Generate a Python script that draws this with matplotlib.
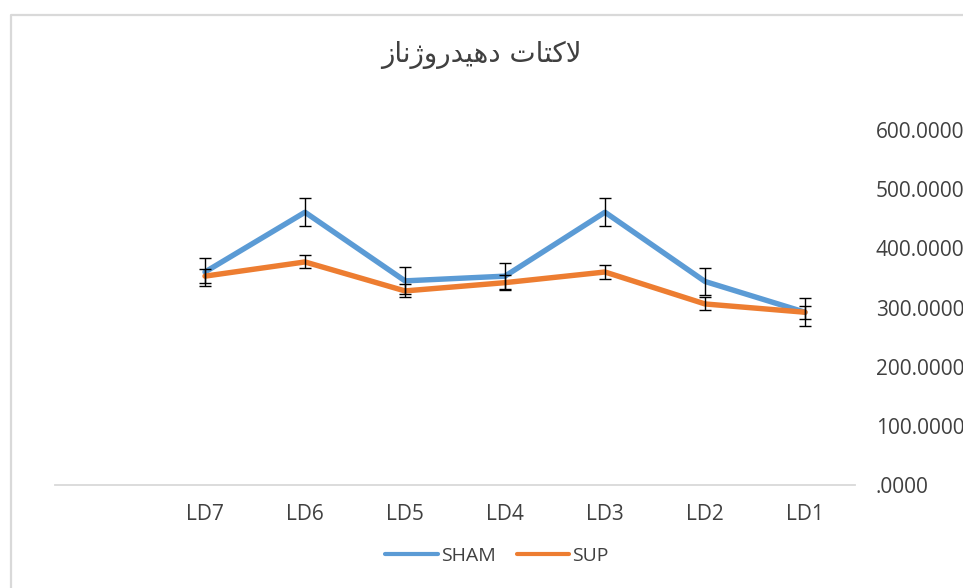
import matplotlib
matplotlib.use('Agg')
from matplotlib import pyplot as plt
from matplotlib.lines import Line2D
import numpy as np

# category order as in the sheet (the axis is drawn reversed), last row is empty
categories = ['LD1', 'LD2', 'LD3', 'LD4', 'LD5', 'LD6', 'LD7', '']
sham = [292, 344, 461, 353, 345, 461, 360, np.nan]
sham_err = [24, 23, 24, 22, 23, 24, 24, np.nan]
sup = [292, 306, 360, 342, 328, 377, 353, np.nan]
sup_err = [11, 11, 11, 13, 11, 11, 12, np.nan]
y_ticks = [0, 100, 200, 300, 400, 500, 600]
y_tick_labels = ['.0000', '100.0000', '200.0000', '300.0000', '400.0000', '500.0000', '600.0000']

# title "لاکتات دهیدروژناز" in shaped presentation forms, visual (left-to-right) order
title = 'ﺯﺎﻧﮊﻭﺭﺪﯿﻫﺩ ﺕﺎﺘﮐﻻ'

blue = '#5B9BD5'
orange = '#ED7D31'
text_color = '#404040'
grid_color = '#D9D9D9'

plt.rcParams['font.family'] = ['Open Sans', 'DejaVu Sans']

W, H = 963, 588
fig = plt.figure(figsize=(W / 100, H / 100), dpi=100)
ax = fig.add_axes([55 / W, 1 - 485 / H, 800 / W, 355 / H])

x = np.arange(len(categories))
ax.plot(x, sham, color=blue, lw=3.9, solid_capstyle='round', solid_joinstyle='round', zorder=3, label='SHAM')
ax.plot(x, sup, color=orange, lw=3.9, solid_capstyle='round', solid_joinstyle='round', zorder=3, label='SUP')
ax.errorbar(x, sham, yerr=sham_err, fmt='none', ecolor='black', elinewidth=1, capsize=4.5, capthick=1, zorder=4)
ax.errorbar(x, sup, yerr=sup_err, fmt='none', ecolor='black', elinewidth=1, capsize=4.5, capthick=1, zorder=4)

ax.set_xlim(len(categories) - 0.5, -0.5)
ax.set_ylim(0, 600)
ax.set_xticks(x)
ax.set_xticklabels(categories, fontsize=15, color=text_color)
ax.set_yticks(y_ticks)
ax.set_yticklabels(y_tick_labels, fontsize=15, color=text_color, ha='left')
ax.yaxis.tick_right()
ax.tick_params(axis='x', length=0, pad=14)
ax.tick_params(axis='y', length=0, pad=15)

for side in ['top', 'left', 'right']:
    ax.spines[side].set_visible(False)
ax.spines['bottom'].set_color(grid_color)
ax.spines['bottom'].set_linewidth(1.3)

fig.text(481 / W, 1 - 55 / H, title, family=['DejaVu Sans'], fontsize=20, color=text_color, ha='center', va='center')

handles = [Line2D([], [], color=blue, lw=3, solid_capstyle='round'),
           Line2D([], [], color=orange, lw=3, solid_capstyle='round')]
fig.legend(handles, ['SHAM', 'SUP'], loc='center', bbox_to_anchor=(497 / W, 1 - 556 / H), ncol=2,
           frameon=False, fontsize=14, labelcolor=text_color, handlelength=2.7, handletextpad=0.15,
           columnspacing=1.1)

# chart area border (cropped on the right and bottom)
fig.add_artist(Line2D([10.5 / W, 10.5 / W, 1], [0, 1 - 14.5 / H, 1 - 14.5 / H], color=grid_color, lw=1.6,
                      transform=fig.transFigure))

fig.savefig('out.png', dpi=100, facecolor='white')
